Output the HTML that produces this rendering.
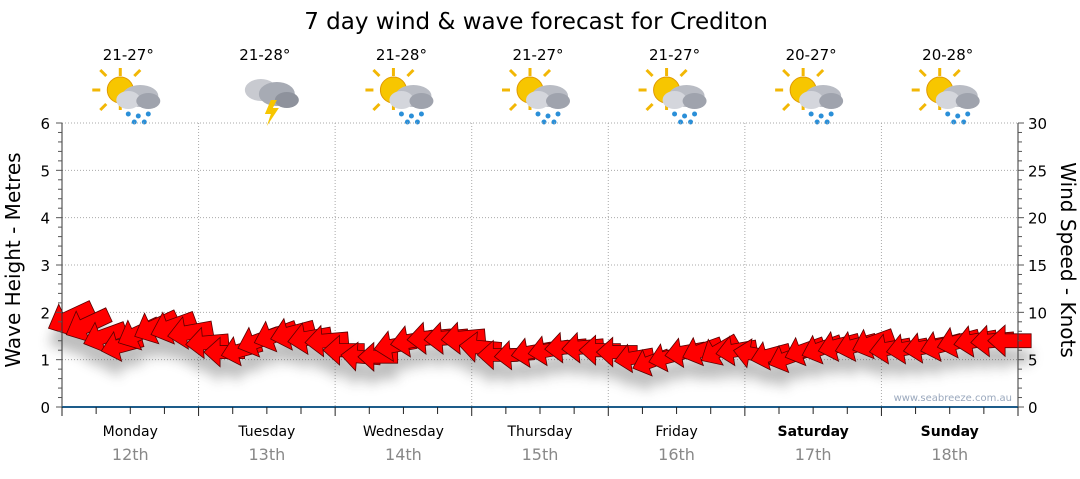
<!DOCTYPE html>
<html><head><meta charset="utf-8"><style>
body{margin:0;background:#fff;width:1080px;height:475px;overflow:hidden;font-family:"DejaVu Sans","Liberation Sans",sans-serif}
</style></head><body>
<svg id="chart" width="1080" height="475" xmlns="http://www.w3.org/2000/svg" font-family="DejaVu Sans, Liberation Sans, sans-serif">
<defs>
<filter id="blur" x="-50%" y="-50%" width="200%" height="200%"><feGaussianBlur stdDeviation="6"/></filter>
<g id="sunIcon">
 <g stroke="#f2b705" stroke-width="3">
  <line x1="-14" y1="-22" x2="-14" y2="-30"/><line x1="-14" y1="6" x2="-14" y2="12"/>
  <line x1="-34" y1="-8" x2="-42" y2="-8"/><line x1="-28" y1="-22" x2="-34" y2="-28"/>
  <line x1="0" y1="-22" x2="6" y2="-28"/><line x1="-28" y1="6" x2="-34" y2="12"/>
 </g>
 <circle cx="-14" cy="-8" r="13" fill="#f7c600" stroke="#e09a00"/>
 <ellipse cx="6" cy="-2" rx="18" ry="11" fill="#b9bcc4"/>
 <ellipse cx="-6" cy="2" rx="12" ry="9" fill="#d4d6dc"/>
 <ellipse cx="14" cy="3" rx="12" ry="8" fill="#9fa3ad"/>
 <g fill="#2a8fd8"><circle cx="-6" cy="16" r="2.5"/><circle cx="4" cy="18" r="2.5"/><circle cx="14" cy="16" r="2.5"/><circle cx="0" cy="24" r="2.5"/><circle cx="10" cy="24" r="2.5"/></g>
</g>
<g id="stormIcon">
 <ellipse cx="-10" cy="-8" rx="16" ry="11" fill="#c8cad0"/>
 <ellipse cx="6" cy="-4" rx="18" ry="12" fill="#a7abb4"/>
 <ellipse cx="16" cy="2" rx="12" ry="8" fill="#8e929c"/>
 <polygon points="0,2 -6,16 0,16 -4,28 8,10 2,10 6,2" fill="#f7c600"/>
</g>
</defs>
<text x="536" y="29" text-anchor="middle" font-size="23" fill="#000">7 day wind &amp; wave forecast for Crediton</text>
<g id="icons"></g>
<g id="grid"></g>
<g id="shadows" filter="url(#blur)" opacity="0.35"></g>
<g id="arrows"></g>
<g id="axes"></g>
<text x="1012" y="401" text-anchor="end" font-size="10" fill="#9aa8bd">www.seabreeze.com.au</text>
<text transform="translate(20,260) rotate(-90)" text-anchor="middle" font-size="20" fill="#000">Wave Height - Metres</text>
<text transform="translate(1061,260) rotate(90)" text-anchor="middle" font-size="20" fill="#000">Wind Speed - Knots</text>
</svg>
<script>
const days = ["Monday","Tuesday","Wednesday","Thursday","Friday","Saturday","Sunday"];
const dates = ["12th","13th","14th","15th","16th","17th","18th"];
const temps = ["21-27°","21-28°","21-28°","21-27°","21-27°","20-27°","20-28°"];
const icons = ["sun","storm","sun","sun","sun","sun","sun"];
const waveTicks = [0,1,2,3,4,5,6];
const windTicks = [0,5,10,15,20,25,30];
const windSpeed = [9.4,8.7,7.5,6.5,7.8,8.5,8.5,7.9,
 6.8,5.8,6,7,7.6,7.8,7.3,7,
 6,5.3,5.3,6.5,7,7.3,7.3,7.3,
 6.3,5.5,5.5,5.8,6,6.3,6.3,6,
 5.8,5.2,4.8,5.3,5.8,6,6,6,
 5.6,5.5,5.2,6,6.2,6.5,6.5,6.8,
 6.2,6.2,6.3,6.5,6.9,7,7,7];
const windHeading = [25,25,20,15,25,25,20,10,
 5,0,15,20,20,15,10,5,
 0,-5,0,10,10,5,5,5,
 -5,0,5,10,10,5,5,0,
 0,10,20,15,10,20,30,10,
 -10,15,20,20,20,15,15,20,
 10,10,10,15,15,10,5,0];
const X0=62,X1=1018,Y0=407,Y1=123;
const dayW=(X1-X0)/7;
const yWave=v=>Y0-(v/6)*(Y0-Y1);
const yWind=v=>Y0-(v/30)*(Y0-Y1);
const xIdx=i=>X0+(i+0.5)*(X1-X0)/windSpeed.length;
const NS="http://www.w3.org/2000/svg";
function mk(tag,attrs,parent,txt){const e=document.createElementNS(NS,tag);for(const k in attrs)e.setAttribute(k,attrs[k]);if(txt!==undefined)e.textContent=txt;parent.appendChild(e);return e;}
const grid=document.getElementById('grid'),axes=document.getElementById('axes'),iconsG=document.getElementById('icons');
waveTicks.forEach(t=>{if(t>0){const l=mk('line',{x1:X0,x2:X1,y1:yWave(t),y2:yWave(t),stroke:'#aaa','stroke-dasharray':'1,2'},grid);

}});
for(let d=1;d<7;d++){const x=X0+d*dayW;const l=mk('line',{x1:x,x2:x,y1:Y1,y2:Y0,stroke:'#aaa','stroke-dasharray':'1,2'},grid);

}
mk('line',{x1:X0,x2:X0,y1:Y1,y2:Y0,stroke:'#333'},axes);
for(let m=0;m<=30;m++){const y=yWave(m/5);mk('line',{x1:X0-(m%5?4:6),x2:X0,y1:y,y2:y,stroke:'#555'},axes);}
waveTicks.forEach(t=>{const e=mk('text',{x:X0-12,y:yWave(t)+6,'text-anchor':'end','font-size':15,fill:'#000'},axes,t);

});
mk('line',{x1:X1,x2:X1,y1:Y1,y2:Y0,stroke:'#333'},axes);
for(let m=0;m<=30;m++){const y=yWind(m);mk('line',{x1:X1,x2:X1+(m%5?4:6),y1:y,y2:y,stroke:'#555'},axes);}
windTicks.forEach(t=>{const e=mk('text',{x:X1+10,y:yWind(t)+6,'font-size':15,fill:'#000'},axes,t);

});
mk('line',{x1:X0,x2:X1,y1:Y0,y2:Y0,stroke:'#1d5c8a','stroke-width':2},axes);
for(let k=0;k<=28;k++){const x=X0+k*dayW/4;mk('line',{x1:x,x2:x,y1:Y0,y2:Y0+(k%4?7:9),stroke:'#222'},axes);}
days.forEach((d,i)=>{const cx=X0+(i+0.5)*dayW;
const t=mk('text',{x:cx,y:436,'text-anchor':'middle','font-size':14,fill:'#000','font-weight':i>=5?'bold':'normal'},axes,d);


const t2=mk('text',{x:cx,y:460,'text-anchor':'middle','font-size':16,fill:'#888'},axes,dates[i]);


const t3=mk('text',{x:cx-2,y:60,'text-anchor':'middle','font-size':15,fill:'#000'},iconsG,temps[i]);


const u=mk('use',{href:icons[i]==='storm'?'#stormIcon':'#sunIcon',x:cx+4,y:98},iconsG);


});
const arrowsG=document.getElementById('arrows'),shG=document.getElementById('shadows');
function arrowPath(L){const w=L*0.16,hw=L*0.36,hl=L*0.4;
return `M${-L/2},0 L${-L/2+hl},${-hw} L${-L/2+hl},${-w} L${L/2},${-w} L${L/2},${w} L${-L/2+hl},${w} L${-L/2+hl},${hw} Z`;}
windSpeed.forEach((v,i)=>{const x=xIdx(i),y=yWind(v),L=28+2.2*v,a=-windHeading[i];
const s=mk('path',{d:arrowPath(L),fill:'#444',transform:`translate(${x},${y+16}) rotate(${a})`},shG);


const p=mk('path',{d:arrowPath(L),fill:'#ff0000',stroke:'#5a0000','stroke-width':0.8,transform:`translate(${x},${y}) rotate(${a})`},arrowsG);


});
</script>
</body></html>
